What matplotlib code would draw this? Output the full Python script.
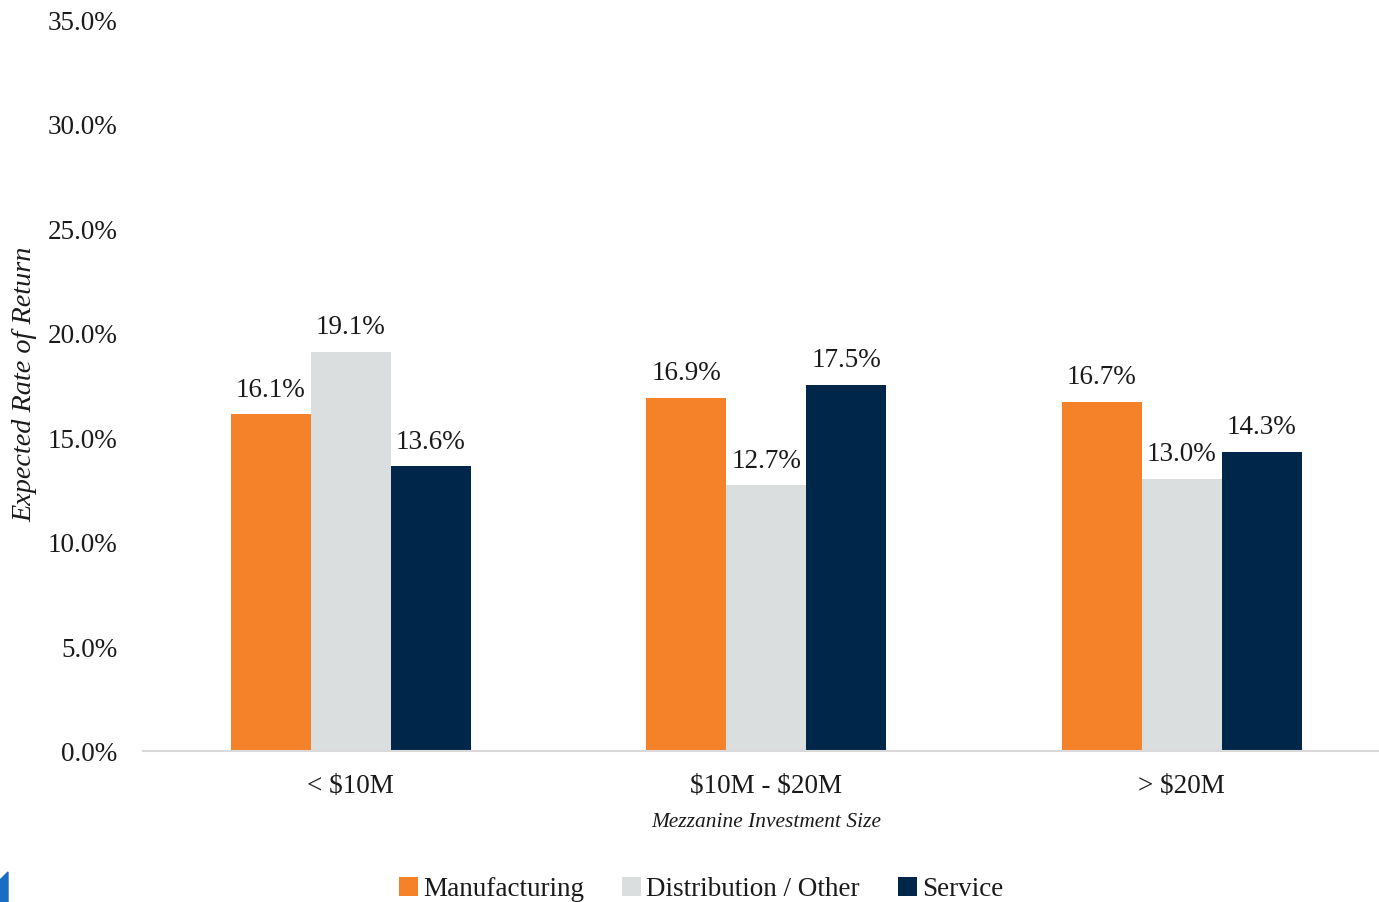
import matplotlib
matplotlib.use("Agg")
import matplotlib.pyplot as plt
from matplotlib.patches import Polygon
import numpy as np

plt.rcParams['font.family'] = ['Liberation Serif', 'DejaVu Serif']
plt.rcParams['text.parse_math'] = False

categories = ["< $10M", "$10M - $20M", "> $20M"]
series_names = ["Manufacturing", "Distribution / Other", "Service"]
manufacturing = [16.1, 16.9, 16.7]
distribution = [19.1, 12.7, 13.0]
service = [13.6, 17.5, 14.3]
colors = ["#F58229", "#DBDEDF", "#002649"]
yticks = [0, 5, 10, 15, 20, 25, 30, 35]

fig = plt.figure(figsize=(13.79, 9.03), dpi=100)
ax = fig.add_axes([143 / 1379, 151.5 / 903, 1246.5 / 1379, 731 / 903])

x = np.arange(len(categories))
w = 80 / 415.5
for i, (vals, name, c) in enumerate(zip([manufacturing, distribution, service], series_names, colors)):
    bars = ax.bar(x + (i - 1) * w, vals, width=w, color=c, label=name, zorder=2)
    for b, v in zip(bars, vals):
        ax.text(b.get_x() + b.get_width() / 2, v + 0.6, f"{v:.1f}%", ha="center", va="bottom",
                fontsize=19.5, color="#1a1a1a")

ax.set_xlim(-0.5, 2.5)
ax.set_ylim(0, 35)
ax.set_yticks(yticks)
ax.set_yticklabels([f"{t:.1f}%" for t in yticks], fontsize=19.5, color="#1a1a1a")
ax.set_xticks(x)
ax.set_xticklabels(categories, fontsize=19.5, color="#1a1a1a")
ax.tick_params(axis="both", length=0)
ax.tick_params(axis="y", pad=18.5)
ax.tick_params(axis="x", pad=16.5)
for s in ["top", "right", "left"]:
    ax.spines[s].set_visible(False)
ax.spines["bottom"].set_color("#D9D9D9")
ax.spines["bottom"].set_linewidth(1.5)

ax.set_xlabel("Mezzanine Investment Size", fontsize=15.4, style="italic", color="#1a1a1a", labelpad=10)
fig.text(25 / 1379, 1 - 384 / 903, "Expected Rate of Return", rotation=90, fontsize=20.3,
         style="italic", color="#1a1a1a", ha="center", va="center")

leg = fig.legend(loc="center", bbox_to_anchor=(701 / 1379, 1 - 890 / 903), ncol=3, frameon=False,
                 fontsize=19.5, handlelength=0.7, handleheight=0.7, handletextpad=0.2,
                 columnspacing=1.4)
for t in leg.get_texts():
    t.set_color("#1a1a1a")

# corner of the brand mark at the lower left
fig.patches.append(Polygon([[0, 0], [8 / 1379, 0], [8 / 1379, 30 / 903], [0, 22 / 903]],
                           closed=True, transform=fig.transFigure, color="#1B6DC1"))

fig.savefig("out.png", dpi=100)
